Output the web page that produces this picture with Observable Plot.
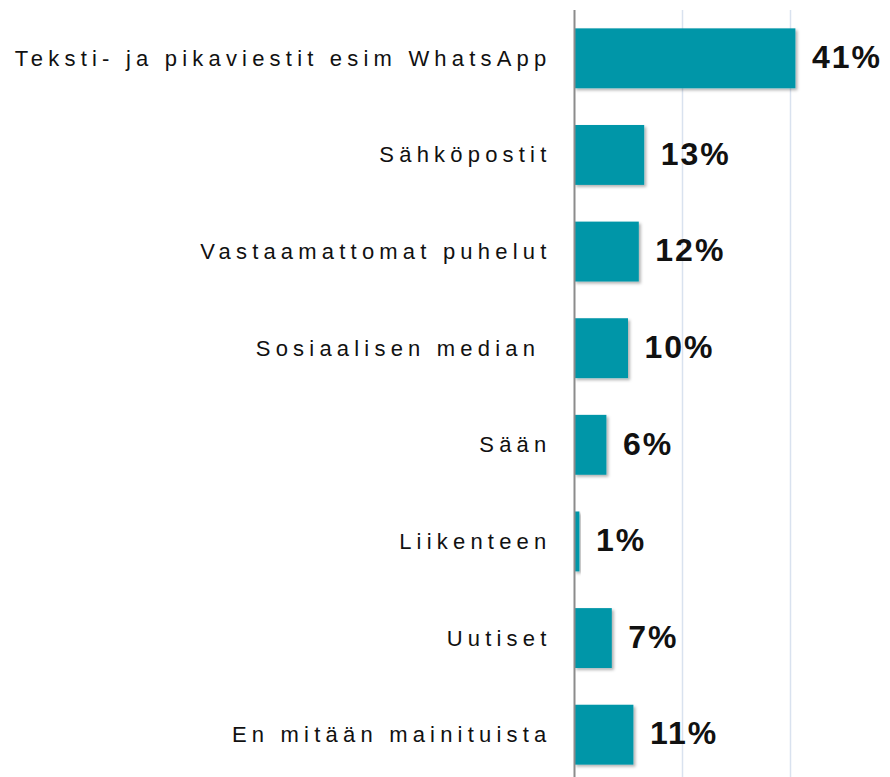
<!DOCTYPE html>
<html>
<head>
<meta charset="utf-8">
<script src="https://cdn.jsdelivr.net/npm/d3@7"></script>
<script src="https://cdn.jsdelivr.net/npm/@observablehq/plot@0.6"></script>
<style>
  html, body { margin: 0; padding: 0; background: #fff; overflow: hidden; }
  #chart { width: 890px; height: 777px; overflow: hidden; }
  #chart svg { max-width: none !important; display: block; }
  g[aria-label="y-axis tick label"] text { letter-spacing: 5.2px; }
  g[aria-label="text"] text { letter-spacing: 2px; }
</style>
</head>
<body>
<div id="chart"></div>
<script>
const categories = [
  "Teksti- ja pikaviestit esim WhatsApp",
  "Sähköpostit",
  "Vastaamattomat puhelut",
  "Sosiaalisen median ",
  "Sään",
  "Liikenteen",
  "Uutiset",
  "En mitään mainituista"
];
const values = [41, 13, 12, 10, 6, 1, 7, 11];
const gridTicks = [20, 40, 60];

const data = categories.map((c, i) => ({category: c, value: values[i]}));

const chart = Plot.plot({
  width: 898,
  height: 783,
  marginLeft: 574,
  marginRight: 0,
  marginTop: 10,
  marginBottom: 0,
  style: {fontFamily: "'Liberation Sans', Arial, sans-serif", background: "#fff", maxWidth: "none"},
  x: {domain: [0, 60], axis: null},
  y: {domain: categories, paddingInner: 0.38, paddingOuter: 0.19, round: false, label: null},
  marks: [
    Plot.ruleX(gridTicks, {stroke: "#d9e2ef", strokeWidth: 1.5, strokeOpacity: 1}),
    Plot.barX(data, {x: "value", y: "category", fill: "#0096a8"}),
    Plot.ruleX([0], {stroke: "#8c8c8c", strokeWidth: 2, strokeOpacity: 1}),
    Plot.axisY({tickSize: 0, tickPadding: 23, fontSize: 22, fill: "#111", label: null}),
    Plot.text(data, {x: "value", y: "category", text: d => d.value + "%", dx: 16, dy: -1, textAnchor: "start", fontSize: 32, fontWeight: "bold", fill: "#111"})
  ]
});

// subtle drop shadow on bars
const svg = d3.select(chart);
const defs = svg.insert("defs", ":first-child");
const f = defs.append("filter").attr("id", "shadow").attr("x", "-10%").attr("y", "-10%").attr("width", "130%").attr("height", "130%");
f.append("feDropShadow").attr("dx", 2).attr("dy", 2).attr("stdDeviation", 1.5).attr("flood-color", "#000").attr("flood-opacity", 0.3);
svg.selectAll('g[aria-label="bar"] rect').attr("filter", "url(#shadow)");

document.getElementById("chart").appendChild(chart);
</script>
</body>
</html>
